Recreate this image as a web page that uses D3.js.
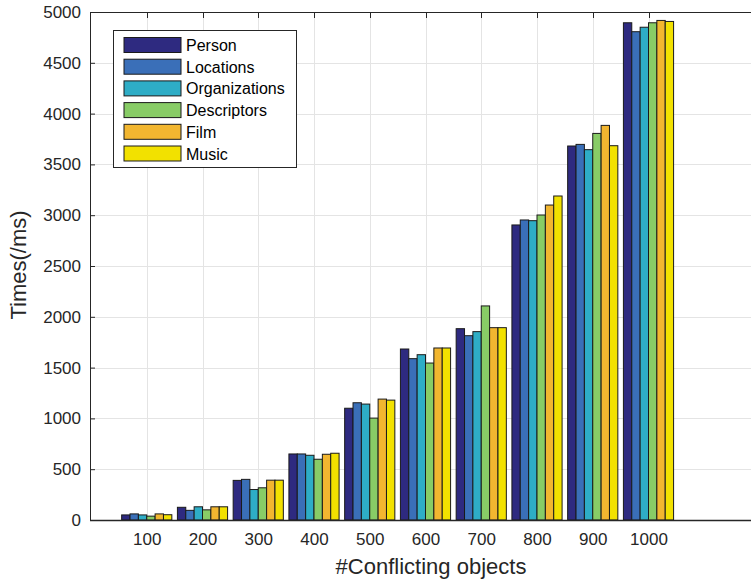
<!DOCTYPE html>
<html>
<head>
<meta charset="utf-8">
<script src="https://cdn.jsdelivr.net/npm/d3@7/dist/d3.min.js"></script>
<style>
  html, body { margin: 0; padding: 0; background: #fff; }
  svg { display: block; font-family: "Liberation Sans", Arial, Helvetica, sans-serif; }
</style>
</head>
<body>
<svg id="chart" width="751" height="580"></svg>
<script>
// Number of conflicting objects on the x axis
const categories = [100, 200, 300, 400, 500, 600, 700, 800, 900, 1000];
const seriesNames = ["Person", "Locations", "Organizations", "Descriptors", "Film", "Music"];
const seriesColors = ["#2e2a80", "#3a6fb8", "#2eadc6", "#88cc66", "#f2b630", "#f2e100"];

// Times in ms per data set
const person        = [50, 125, 390, 650, 1100, 1683, 1883, 2904, 3681, 4894];
const locations     = [60, 95, 400, 650, 1154, 1588, 1814, 2953, 3697, 4806];
const organizations = [50, 130, 300, 637, 1141, 1627, 1854, 2946, 3645, 4850];
const descriptors   = [38, 100, 317, 598, 1003, 1545, 2107, 3002, 3805, 4894];
const film          = [60, 130, 392, 647, 1190, 1693, 1893, 3100, 3884, 4917];
const music         = [52, 130, 392, 657, 1180, 1693, 1893, 3189, 3684, 4907];

const yTicks = [0, 500, 1000, 1500, 2000, 2500, 3000, 3500, 4000, 4500, 5000];

const series = [person, locations, organizations, descriptors, film, music];

const svg = d3.select("#chart");
const plotLeft = 90, plotTop = 12, plotBottom = 520, plotRight = 760;

const x = d3.scaleLinear().domain([0, 1200]).range([plotLeft + 1, plotRight]);
const y = d3.scaleLinear().domain([0, 5000]).range([plotBottom, plotTop]);

// group layout: six touching bars per category
const groupHalf = 45;
const inner = d3.scaleBand().domain(d3.range(series.length)).range([0, 1]).padding(0);

// grid
const grid = svg.append("g").attr("stroke", "#e4e4e4").attr("stroke-width", 1);
grid.selectAll("line.h").data(yTicks.slice(1)).join("line")
  .attr("x1", plotLeft).attr("x2", plotRight)
  .attr("y1", d => Math.round(y(d)) + 0.5).attr("y2", d => Math.round(y(d)) + 0.5);
grid.selectAll("line.v").data(categories).join("line")
  .attr("y1", plotTop).attr("y2", plotBottom)
  .attr("x1", d => Math.round(x(d)) + 0.5).attr("x2", d => Math.round(x(d)) + 0.5);

// bars
const rows = [];
categories.forEach((c, i) => {
  series.forEach((s, j) => rows.push({ c, j, v: s[i] }));
});
const gx0 = c => x(c - groupHalf);
const gw = x(groupHalf) - x(-groupHalf);
svg.append("g").selectAll("rect").data(rows).join("rect")
  .attr("x", d => gx0(d.c) + inner(d.j) * gw)
  .attr("width", inner.bandwidth() * gw)
  .attr("y", d => y(d.v))
  .attr("height", d => y(0) - y(d.v))
  .attr("fill", d => seriesColors[d.j])
  .attr("stroke", "#1a1a1a")
  .attr("stroke-width", 1);

// axes
const yAxis = d3.axisLeft(y).tickValues(yTicks).tickSize(-5).tickPadding(9).tickFormat(d3.format("d"));
const gy = svg.append("g").attr("transform", `translate(${plotLeft},0)`).call(yAxis);
gy.select(".domain").remove();
gy.selectAll(".tick line").attr("stroke", "#262626");
gy.selectAll("text").attr("font-size", 17).attr("fill", "#262626");
gy.attr("font-family", null);

const xAxis = d3.axisBottom(x).tickValues(categories).tickSize(0).tickPadding(13).tickFormat(d3.format("d"));
const gxa = svg.append("g").attr("transform", `translate(0,${plotBottom})`).call(xAxis);
gxa.select(".domain").remove();
gxa.selectAll("text").attr("font-size", 17).attr("fill", "#262626");
gxa.attr("font-family", null);

// top-edge ticks pointing inward
svg.append("g").selectAll("line").data(categories).join("line")
  .attr("x1", d => Math.round(x(d)) + 0.5).attr("x2", d => Math.round(x(d)) + 0.5)
  .attr("y1", plotTop).attr("y2", plotTop + 6)
  .attr("stroke", "#262626");

// frame lines
svg.append("line").attr("x1", plotLeft + 0.5).attr("x2", plotLeft + 0.5).attr("y1", plotTop).attr("y2", plotBottom + 1)
  .attr("stroke", "#262626");
svg.append("line").attr("x1", plotLeft).attr("x2", plotRight).attr("y1", plotTop + 0.5).attr("y2", plotTop + 0.5)
  .attr("stroke", "#262626");
svg.append("line").attr("x1", plotLeft).attr("x2", plotRight).attr("y1", plotBottom + 0.5).attr("y2", plotBottom + 0.5)
  .attr("stroke", "#262626").attr("stroke-width", 1.5);

// axis titles
svg.append("text").attr("x", 431).attr("y", 574).attr("text-anchor", "middle")
  .attr("font-size", 22).attr("fill", "#262626").text("#Conflicting objects");
svg.append("text").attr("transform", "translate(26,265) rotate(-90)").attr("text-anchor", "middle")
  .attr("font-size", 22).attr("fill", "#262626").text("Times(/ms)");

// legend
const lg = svg.append("g").attr("transform", "translate(113,30)");
lg.append("rect").attr("x", 0.5).attr("y", 0.5).attr("width", 183).attr("height", 137)
  .attr("fill", "#fff").attr("stroke", "#262626");
seriesNames.forEach((name, i) => {
  const cy = 15 + i * 21.7;
  lg.append("rect").attr("x", 11).attr("y", cy - 7.5).attr("width", 57).attr("height", 15)
    .attr("fill", seriesColors[i]).attr("stroke", "#1a1a1a");
  lg.append("text").attr("x", 73).attr("y", cy + 6).attr("font-size", 16).attr("fill", "#000").text(name);
});
</script>
</body>
</html>
